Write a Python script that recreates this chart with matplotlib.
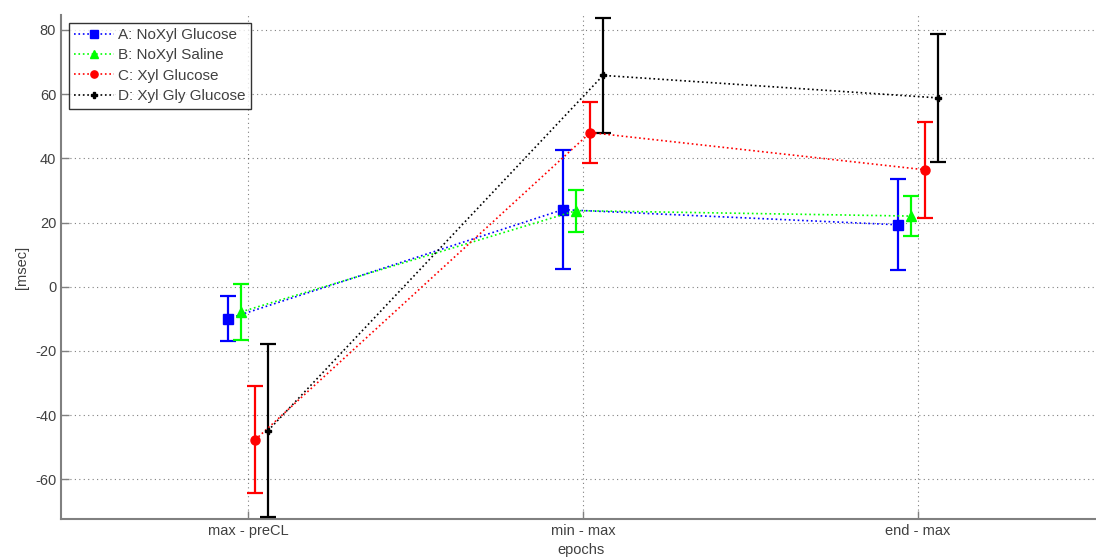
import numpy as np
import matplotlib
matplotlib.use("Agg")
import matplotlib.pyplot as plt

plt.rcParams['font.family'] = ['Liberation Sans', 'DejaVu Sans']
plt.rcParams['axes.unicode_minus'] = False

# epochs on x axis
epochs = ['max - preCL', 'min - max', 'end - max']

# group means and error bar half-widths [msec]
labels = ['A: NoXyl Glucose', 'B: NoXyl Saline', 'C: Xyl Glucose', 'D: Xyl Gly Glucose']
mean_a = [-10.0, 24.0, 19.3]
err_a = [7.0, 18.5, 14.1]
mean_b = [-7.8, 23.7, 22.0]
err_b = [8.8, 6.5, 6.3]
mean_c = [-47.6, 48.0, 36.4]
err_c = [16.6, 9.6, 15.0]
mean_d = [-44.8, 65.8, 58.8]
err_d = [27.0, 18.0, 20.0]

means = [mean_a, mean_b, mean_c, mean_d]
errs = [err_a, err_b, err_c, err_d]
colors = ['#0000ff', '#00ff00', '#ff0000', '#000000']
markers = ['s', '^', 'o', 'P']
msizes = [6.5, 7.5, 6.5, 5]
offsets = [-0.06, -0.02, 0.022, 0.06]

fig = plt.figure(figsize=(10.96, 5.58), dpi=100)
ax = fig.add_axes([61 / 1096, 39 / 558, 1040 / 1096, 504 / 558])

x = np.arange(1, len(epochs) + 1)
for m, e, c, mk, ms, off, lab in zip(means, errs, colors, markers, msizes, offsets, labels):
    xs = x + off
    ax.errorbar(xs, m, yerr=e, fmt='none', ecolor=c, elinewidth=1.6,
                capsize=6, capthick=1.6, zorder=3)
    ax.plot(xs, m, linestyle=':', color=c, linewidth=1.2, marker=mk,
            markersize=ms, markerfacecolor=c, markeredgecolor=c, label=lab, zorder=4)

ax.set_xlim(0.442, 0.442 + 1040 / 335)
ax.set_ylim(-72.3, 84.6)
ax.set_xticks(x)
ax.set_xticklabels(epochs)
ax.set_yticks(np.arange(-60, 81, 20))

ax.grid(True, linestyle=(0, (1, 3)), color='#000000', linewidth=0.8, alpha=0.5)
ax.set_axisbelow(True)

for side in ['top', 'right']:
    ax.spines[side].set_visible(False)
for side in ['left', 'bottom']:
    ax.spines[side].set_color('#808080')
    ax.spines[side].set_linewidth(1.5)
ax.tick_params(direction='in', length=6, color='#808080', labelcolor='#404040',
               labelsize=10.5, width=1)

ax.set_ylabel('[msec]', fontsize=10.5, color='#404040', labelpad=4)
ax.set_xlabel('epochs', fontsize=10.5, color='#404040', labelpad=4)

leg = ax.legend(loc='upper left', fontsize=11, frameon=True, fancybox=False,
                handlelength=2.6, handletextpad=0.3, borderpad=0.35, labelspacing=0.42,
                borderaxespad=0.5, markerscale=0.8)
leg.get_frame().set_edgecolor('#000000')
leg.get_frame().set_linewidth(1.0)
for t in leg.get_texts():
    t.set_color('#404040')

fig.savefig('out.png', dpi=100)
